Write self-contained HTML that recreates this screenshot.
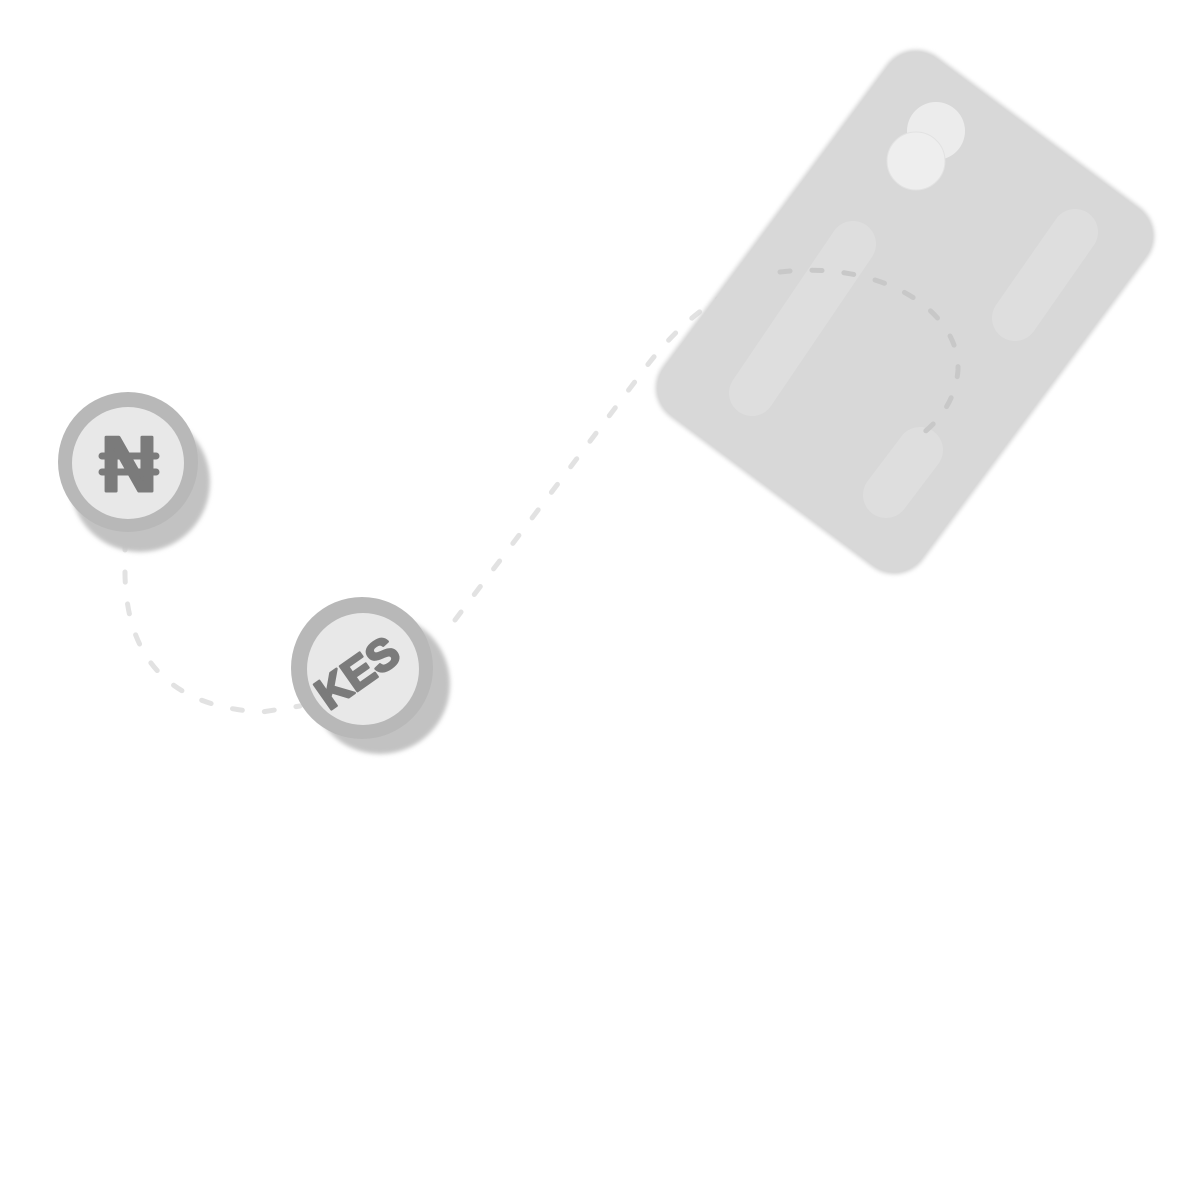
<!DOCTYPE html>
<html><head><style>
html,body{margin:0;padding:0;background:#fff;width:1178px;height:1193px;overflow:hidden}
</style></head><body>
<svg width="1178" height="1193" viewBox="0 0 1178 1193" xmlns="http://www.w3.org/2000/svg">
<defs>
<filter id="blur" x="-20%" y="-20%" width="140%" height="140%"><feGaussianBlur stdDeviation="2"/></filter>
</defs>
<!-- dashed connectors -->
<path d="M125,540 L125,575 Q128,705 262,712 L300,706" fill="none" stroke="#e2e2e2" stroke-width="5" stroke-linecap="round" stroke-dasharray="10 22"/>
<path d="M455,620 L640,375 Q700,292 780,272" fill="none" stroke="#e2e2e2" stroke-width="5" stroke-linecap="round" stroke-dasharray="10 22"/>
<!-- card -->
<g transform="translate(905,312) rotate(36.6)">
<rect x="-162" y="-224" width="324" height="448" rx="36" fill="#cfcfcf" filter="url(#blur)"/>
<rect x="-160" y="-222" width="320" height="444" rx="34" fill="#d8d8d8"/>
</g>
<line x1="853" y1="244" x2="752" y2="393" stroke="#dedede" stroke-width="46" stroke-linecap="round"/>
<line x1="1075" y1="232" x2="1015" y2="318" stroke="#dedede" stroke-width="46" stroke-linecap="round"/>
<line x1="920" y1="450" x2="886" y2="495" stroke="#dedede" stroke-width="46" stroke-linecap="round"/>
<circle cx="936" cy="131" r="29" fill="#ececec"/>
<circle cx="916" cy="161" r="29" fill="#eeeeee" stroke="#e2e2e2" stroke-width="1"/>
<path d="M780,272 C880,260 960,310 958,370 Q955,410 918,437" fill="none" stroke="#c8c8c8" stroke-width="5" stroke-linecap="round" stroke-dasharray="10 22"/>
<!-- Naira coin -->
<circle cx="140" cy="482" r="70" fill="#c2c2c2" filter="url(#blur)"/>
<circle cx="128" cy="462" r="70" fill="#b8b8b8"/>
<circle cx="128" cy="463" r="56" fill="#e8e8e8"/>
<text x="129" y="491" text-anchor="middle" font-family="Liberation Sans, DejaVu Sans, sans-serif" font-weight="bold" font-size="78" fill="#7b7b7b" stroke="#7b7b7b" stroke-width="3" stroke-linejoin="round">N</text>
<line x1="102" y1="456" x2="156" y2="456" stroke="#7b7b7b" stroke-width="7" stroke-linecap="round"/>
<line x1="102" y1="472" x2="156" y2="472" stroke="#7b7b7b" stroke-width="7" stroke-linecap="round"/>
<!-- KES coin -->
<circle cx="380" cy="684" r="70" fill="#c2c2c2" filter="url(#blur)"/>
<circle cx="362" cy="668" r="71" fill="#b8b8b8"/>
<circle cx="363" cy="669" r="56" fill="#e8e8e8"/>
<text x="0" y="0" transform="translate(366,685) rotate(-35)" text-anchor="middle" font-family="Liberation Sans, sans-serif" font-weight="bold" font-size="44" fill="#7b7b7b" stroke="#7b7b7b" stroke-width="2.5" stroke-linejoin="round">KES</text>
</svg>
</body></html>
